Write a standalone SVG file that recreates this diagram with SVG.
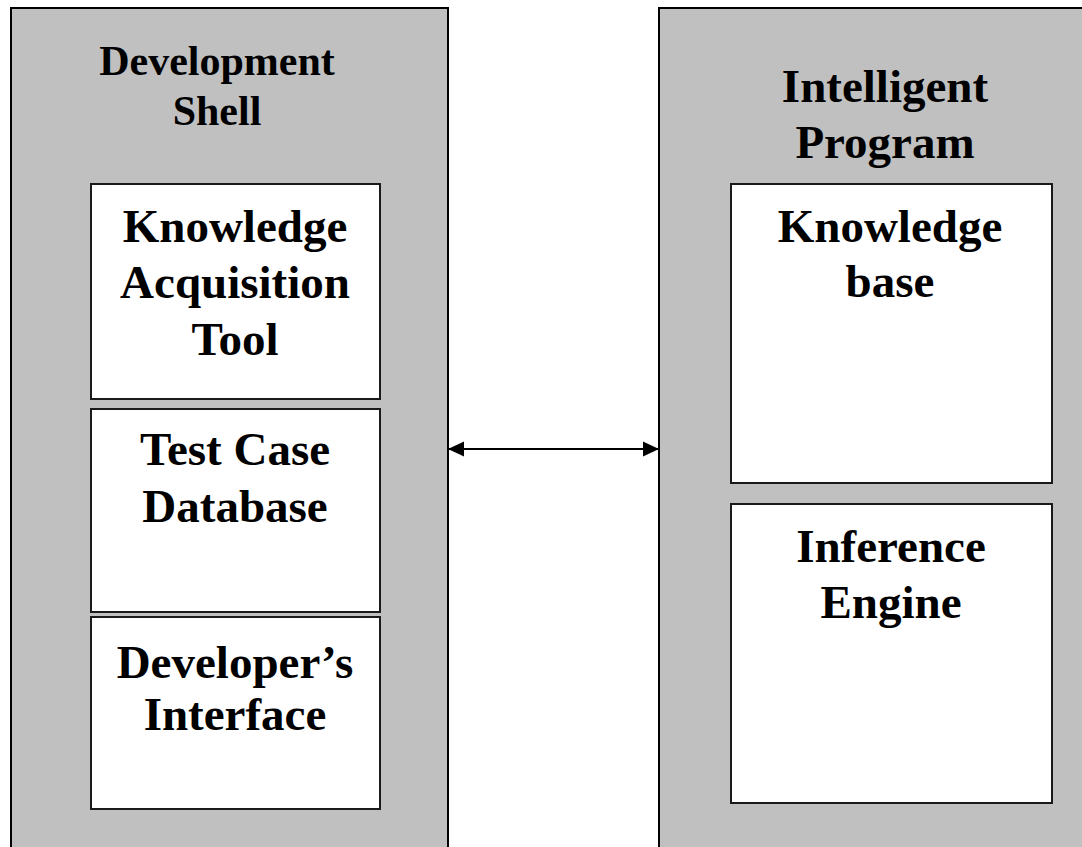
<svg xmlns="http://www.w3.org/2000/svg" width="1082" height="847" viewBox="0 0 1082 847">
<defs>
<style>
.outer{fill:#c0c0c0;stroke:#000;stroke-width:2}
.inner{fill:#fff;stroke:#1a1a1a;stroke-width:2}
.t{font-family:"Liberation Serif","Times New Roman",serif;font-weight:bold;font-size:47px;fill:#000;text-anchor:middle}
.ts{font-size:42px}
.conn{stroke:#000;stroke-width:2;fill:none}
</style>
<marker id="ah" viewBox="0 0 16 16" refX="16" refY="8" markerWidth="16" markerHeight="16" markerUnits="userSpaceOnUse" orient="auto-start-reverse">
<path d="M0,0.5 L16,8 L0,15.5 Z" fill="#000"/>
</marker>
</defs>
<rect width="1082" height="847" fill="#fff"/>
<g id="dev-shell">
<rect class="outer" x="11" y="8" width="437" height="850"/>
<text class="t ts" x="217" y="75">Development</text>
<text class="t ts" x="217" y="125">Shell</text>
</g>
<g id="intelligent-program">
<rect class="outer" x="659" y="8" width="440" height="850"/>
<text class="t" x="885" y="102">Intelligent</text>
<text class="t" x="885" y="158">Program</text>
</g>
<g id="kat">
<rect class="inner" x="91" y="184" width="289" height="215"/>
<text class="t" x="235" y="242">Knowledge</text>
<text class="t" x="235" y="298">Acquisition</text>
<text class="t" x="235" y="355">Tool</text>
</g>
<g id="tcd">
<rect class="inner" x="91" y="409" width="289" height="203"/>
<text class="t" x="235" y="465">Test Case</text>
<text class="t" x="235" y="522">Database</text>
</g>
<g id="devif">
<rect class="inner" x="91" y="617" width="289" height="192"/>
<text class="t" x="235" y="678">Developer’s</text>
<text class="t" x="235" y="730">Interface</text>
</g>
<g id="kb">
<rect class="inner" x="731" y="184" width="321" height="299"/>
<text class="t" x="890" y="242">Knowledge</text>
<text class="t" x="890" y="297">base</text>
</g>
<g id="ie">
<rect class="inner" x="731" y="504" width="321" height="299"/>
<text class="t" x="891" y="562">Inference</text>
<text class="t" x="891" y="618">Engine</text>
</g>
<g id="connectors">
<line class="conn" x1="448" y1="449" x2="659" y2="449" marker-start="url(#ah)" marker-end="url(#ah)"/>
</g>
</svg>
